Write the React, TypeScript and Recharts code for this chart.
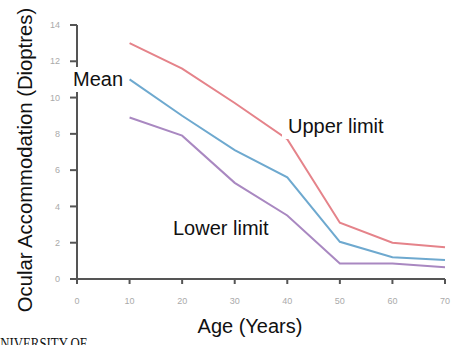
import React from 'react';
import { LineChart, Line, XAxis, YAxis } from 'recharts';

const ages = [10, 20, 30, 40, 50, 60, 70];
const upperLimit = [13.0, 11.6, 9.7, 7.7, 3.1, 2.0, 1.75];
const meanValues = [11.0, 9.0, 7.1, 5.6, 2.05, 1.2, 1.05];
const lowerLimit = [8.9, 7.9, 5.3, 3.5, 0.85, 0.85, 0.65];
const xTicks = [0, 10, 20, 30, 40, 50, 60, 70];
const yTicks = [0, 2, 4, 6, 8, 10, 12, 14];

const data = ages.map((age, i) => ({
  age,
  upper: upperLimit[i],
  mean: meanValues[i],
  lower: lowerLimit[i],
}));

const AXIS = '#555';
const TICK_TEXT = { fill: '#aaa', fontSize: 9, fontFamily: 'Arial, sans-serif' };
const FONT = '"Liberation Sans", Arial, sans-serif';

const App: React.FC = () => {
  return (
    <div style={{ position: 'absolute', left: 0, top: 0, width: 457, height: 345, overflow: 'hidden', background: '#fff' }}>
      <LineChart width={457} height={345} data={data} margin={{ top: 25, right: 12, bottom: 36, left: 37 }}>
        <XAxis
          dataKey="age"
          type="number"
          domain={[0, 70]}
          ticks={xTicks}
          tick={TICK_TEXT}
          tickSize={5}
          tickMargin={14}
          height={30}
          stroke={AXIS}
          strokeWidth={2}
        />
        <YAxis
          type="number"
          domain={[0, 14]}
          ticks={yTicks}
          tick={TICK_TEXT}
          tickSize={7}
          tickMargin={10}
          width={40}
          stroke={AXIS}
          strokeWidth={2}
        />
        <Line dataKey="upper" stroke="#e5838a" strokeWidth={2} dot={false} isAnimationActive={false} />
        <Line dataKey="mean" stroke="#6ea9cf" strokeWidth={2} dot={false} isAnimationActive={false} />
        <Line dataKey="lower" stroke="#a988c1" strokeWidth={2} dot={false} isAnimationActive={false} />
      </LineChart>

      {/* annotation overlay */}
      <svg width={457} height={345} style={{ position: 'absolute', left: 0, top: 0, pointerEvents: 'none' }}>
        <g fontFamily={FONT} fontSize={20} fill="#111">
          <rect x={70} y={67} width={56} height={25} fill="#fff" />
          <text x={73} y={86}>Mean</text>
          <rect x={282} y={117} width={108} height={22} fill="#fff" />
          <text x={288} y={133}>Upper limit</text>
          <rect x={165} y={213} width={113} height={30} fill="#fff" />
          <text x={173} y={235}>Lower limit</text>
          <text x={250} y={333} textAnchor="middle">Age (Years)</text>
          <text transform="translate(32,160) rotate(-90)" textAnchor="middle" fontSize={20.3}>
            Ocular Accommodation (Dioptres)
          </text>
        </g>
        <text x={-9} y={349} fontFamily='"Liberation Serif", "Times New Roman", serif' fontSize={17} textLength={96} lengthAdjust="spacingAndGlyphs" fill="#111">
          UNIVERSITY OF
        </text>
      </svg>
    </div>
  );
};

export default App;
